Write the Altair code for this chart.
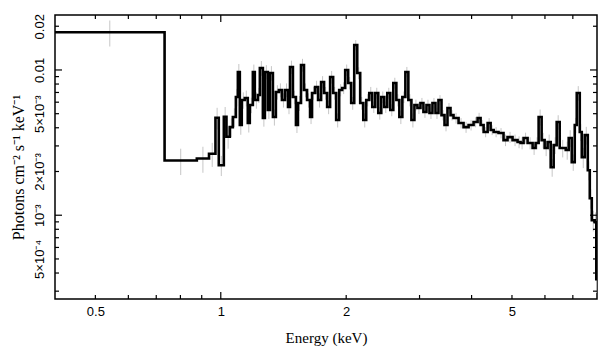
import altair as alt
import pandas as pd

# Bin edges (keV)
edges = [
    0.400, 0.733, 0.876, 0.937, 0.971, 0.989, 1.017, 1.032, 1.051, 1.069,
    1.087, 1.099, 1.111, 1.123, 1.142, 1.161, 1.174, 1.194, 1.207, 1.228,
    1.241, 1.262, 1.276, 1.297, 1.312, 1.334, 1.356, 1.379, 1.402, 1.426,
    1.450, 1.466, 1.490, 1.515, 1.532, 1.558, 1.584, 1.611, 1.638, 1.656,
    1.684, 1.712, 1.741, 1.770, 1.800, 1.830, 1.861, 1.892, 1.924, 1.956,
    1.989, 2.022, 2.056, 2.091, 2.126, 2.161, 2.198, 2.234, 2.272, 2.310,
    2.349, 2.388, 2.428, 2.469, 2.510, 2.552, 2.595, 2.639, 2.683, 2.728,
    2.774, 2.820, 2.868, 2.916, 2.965, 3.015, 3.065, 3.117, 3.169, 3.222,
    3.276, 3.331, 3.387, 3.444, 3.501, 3.560, 3.620, 3.722, 3.826, 3.934,
    4.044, 4.135, 4.204, 4.275, 4.371, 4.444, 4.519, 4.642, 4.772, 4.879,
    5.016, 5.157, 5.244, 5.332, 5.451, 5.604, 5.698, 5.794, 5.891, 5.990,
    6.090, 6.193, 6.296, 6.402, 6.509, 6.730, 6.842, 6.957, 7.074, 7.153,
    7.273, 7.354, 7.477, 7.603, 7.687, 7.773, 7.903, 7.969, 8.000,
]

# Flux per bin (photons cm^-2 s^-1 keV^-1)
flux = [
    0.0182, 0.00238, 0.00246, 0.00265, 0.00469, 0.00221, 0.00476, 0.00347, 0.00404, 0.00474,
    0.00651, 0.00969, 0.00418, 0.00621, 0.00641, 0.00431, 0.00574, 0.00969, 0.00621, 0.00672,
    0.01032, 0.00467, 0.00969, 0.00530, 0.00953, 0.00474, 0.00705, 0.00728, 0.00621, 0.00728,
    0.00556, 0.01049, 0.00651, 0.00418, 0.00592, 0.01083, 0.00728, 0.00621, 0.00474, 0.00694,
    0.00763, 0.00621, 0.00827, 0.00694, 0.00556, 0.00895, 0.00694, 0.00452, 0.00728, 0.00752,
    0.01000, 0.00814, 0.00592, 0.01487, 0.00953, 0.00592, 0.00452, 0.00621, 0.00694, 0.00556,
    0.00694, 0.00505, 0.00651, 0.00556, 0.00694, 0.00530, 0.00814, 0.00621, 0.00474, 0.00651,
    0.00969, 0.00621, 0.00452, 0.00574, 0.00547, 0.00592, 0.00513, 0.00574, 0.00505, 0.00592,
    0.00505, 0.00621, 0.00489, 0.00418, 0.00547, 0.00489, 0.00467, 0.00431, 0.00404, 0.00418,
    0.00438, 0.00467, 0.00418, 0.00374, 0.00431, 0.00386, 0.00374, 0.00368, 0.00329, 0.00345,
    0.00329, 0.00319, 0.00314, 0.00340, 0.00314, 0.00290, 0.00314, 0.00474, 0.00329, 0.00290,
    0.00319, 0.00214, 0.00304, 0.00438, 0.00290, 0.00281, 0.00340, 0.00232, 0.00418, 0.00694,
    0.00374, 0.00251, 0.00356, 0.00204, 0.00131, 0.000924, 0.000895, 0.000362,
]

# 1-sigma errors per bin
errs = [
    0.0037, 0.00049, 0.0005, 0.0005, 0.0008, 0.00035, 0.0008, 0.0006, 0.0006, 0.0007,
    0.0009, 0.0013, 0.0006, 0.0008, 0.0008, 0.0006, 0.0007, 0.0012, 0.0008, 0.0008,
    0.0012, 0.0006, 0.0011, 0.0007, 0.0011, 0.0006, 0.0008, 0.0008, 0.0007, 0.0008,
    0.0006, 0.0011, 0.0007, 0.0005, 0.0007, 0.0011, 0.0008, 0.0007, 0.0005, 0.0007,
    0.0008, 0.0007, 0.0008, 0.0007, 0.0006, 0.0009, 0.0007, 0.0005, 0.0007, 0.0007,
    0.0009, 0.0008, 0.0006, 0.0012, 0.0009, 0.0006, 0.0005, 0.0006, 0.0007, 0.0005,
    0.0006, 0.0005, 0.0006, 0.0005, 0.0006, 0.0005, 0.0007, 0.0006, 0.0005, 0.0006,
    0.0008, 0.0006, 0.0005, 0.0005, 0.0005, 0.0005, 0.00045, 0.0005, 0.00045, 0.0005,
    0.00045, 0.0005, 0.0004, 0.0004, 0.00045, 0.0004, 0.0004, 0.00035, 0.00035, 0.00035,
    0.00035, 0.0004, 0.00035, 0.0003, 0.00035, 0.0003, 0.0003, 0.0003, 0.0003, 0.0003,
    0.0003, 0.0003, 0.0003, 0.0003, 0.0003, 0.0003, 0.0003, 0.0006, 0.0004, 0.00035,
    0.0004, 0.0003, 0.0004, 0.0005, 0.0004, 0.0004, 0.00045, 0.0003, 0.0005, 0.0008,
    0.0005, 0.0004, 0.0005, 0.0003, 0.0002, 0.00015, 0.00015, 0.00007,
]

x_label_values = [0.5, 1, 2, 5]
x_major = [1.0]
x_minor = [0.5, 0.6, 0.7, 0.8, 0.9, 2, 3, 4, 5, 6, 7]
y_label_values = [0.0005, 0.001, 0.002, 0.005, 0.01, 0.02]
y_major = [0.01, 0.001]
y_minor = [0.0003, 0.0004, 0.0005, 0.0006, 0.0007, 0.0008, 0.0009,
           0.002, 0.003, 0.004, 0.005, 0.006, 0.007, 0.008, 0.009, 0.02]

W, H = 542, 284
MAJ, MIN = 7, 4

rows = []
for i, v in enumerate(flux):
    rows.append({"e": edges[i], "f": v, "o": 2 * i})
    rows.append({"e": edges[i + 1], "f": v, "o": 2 * i + 1})
step = pd.DataFrame(rows)

bars = pd.DataFrame({
    "e": [(edges[i] * edges[i + 1]) ** 0.5 for i in range(len(flux))],
    "f": [flux[i] - errs[i] for i in range(len(flux))],
    "hi": [flux[i] + errs[i] for i in range(len(flux))],
})

xscale = alt.Scale(type="log", domain=[0.4, 8.0], nice=False)
yscale = alt.Scale(type="log", domain=[2.65e-4, 0.0239], nice=False)

y_expr = ("datum.value > 0.015 ? '0.02' : datum.value > 0.007 ? '0.01' : "
          "datum.value > 0.004 ? '5×10⁻³' : datum.value > 0.0015 ? '2×10⁻³' : "
          "datum.value > 0.0007 ? '10⁻³' : '5×10⁻⁴'")

xaxis = alt.Axis(title="Energy (keV)", values=x_label_values, format="~g",
                 labelFont="Liberation Sans", labelFontSize=13, labelColor="black",
                 ticks=False, domain=False, grid=False, labelPadding=6,
                 labelFlush=False, titleFont="Liberation Serif", titleFontSize=15,
                 titleFontWeight="normal", titleColor="black", titlePadding=12)
yaxis = alt.Axis(title="Photons cm⁻² s⁻¹ keV⁻¹", values=y_label_values, labelExpr=y_expr,
                 labelFont="Liberation Sans", labelFontSize=13, labelColor="black",
                 labelAngle=-90, labelAlign="center", labelBaseline="bottom",
                 labelOverlap=False, labelFlush=False,
                 ticks=False, domain=False, grid=False, labelPadding=9,
                 titleFont="Liberation Serif", titleFontSize=16, titleFontWeight="normal",
                 titleColor="black", titleX=-29, titleY=152)

line = alt.Chart(step).mark_line(color="black", strokeWidth=2.6, clip=True).encode(
    x=alt.X("e:Q", scale=xscale, axis=xaxis),
    y=alt.Y("f:Q", scale=yscale, axis=yaxis),
    order="o:Q",
)

errorbars = alt.Chart(bars).mark_rule(color="#c6c6c6", strokeWidth=1, clip=True).encode(
    x=alt.X("e:Q", scale=xscale, axis=xaxis),
    y=alt.Y("f:Q", scale=yscale, axis=yaxis),
    y2="hi:Q",
)


def xticks(vals, length, top):
    df = pd.DataFrame({"e": vals})
    y0, y1 = (0, length) if top else (H, H - length)
    return alt.Chart(df).mark_rule(color="black", strokeWidth=1.2).encode(
        x=alt.X("e:Q", scale=xscale, axis=xaxis), y=alt.value(y0), y2=alt.value(y1))


def yticks(vals, length, right):
    df = pd.DataFrame({"f": vals})
    x0, x1 = (W, W - length) if right else (0, length)
    return alt.Chart(df).mark_rule(color="black", strokeWidth=1.2).encode(
        y=alt.Y("f:Q", scale=yscale, axis=yaxis), x=alt.value(x0), x2=alt.value(x1))


layers = [errorbars, line,
          xticks(x_major, MAJ, False), xticks(x_minor, MIN, False),
          xticks(x_major, MAJ, True), xticks(x_minor, MIN, True),
          yticks(y_major, MAJ, False), yticks(y_minor, MIN, False),
          yticks(y_major, MAJ, True), yticks(y_minor, MIN, True)]

chart = alt.layer(*layers).properties(
    width=W, height=H,
    padding={"left": 47, "top": 7, "right": 4, "bottom": 50},
    autosize=alt.AutoSizeParams(type="none"),
    background="white",
).configure_view(stroke="black", strokeWidth=1.5)

chart.save("out.html", embed_options={"renderer": "svg", "actions": False})
